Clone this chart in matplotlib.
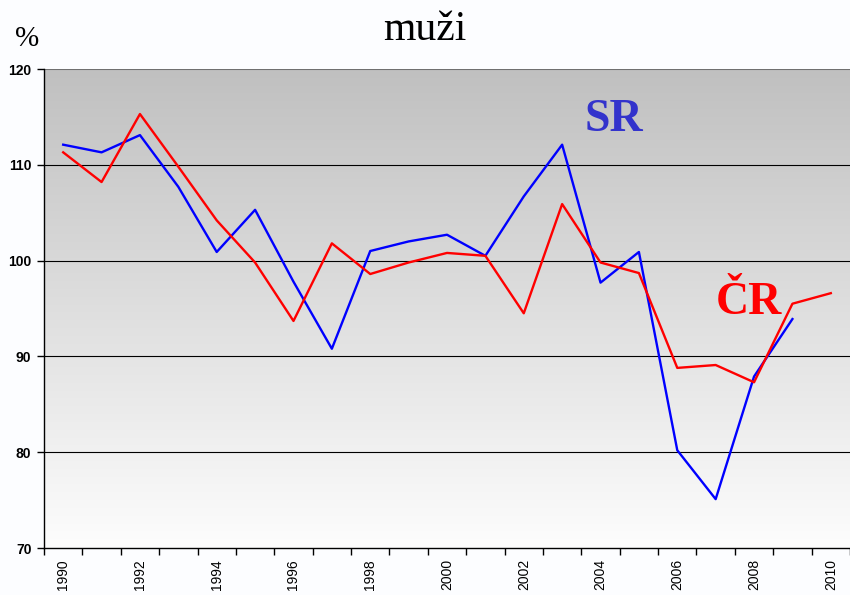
import matplotlib
matplotlib.use("Agg")
import matplotlib.pyplot as plt
import numpy as np

# data (index %, men)
years = list(range(1990, 2011))
sr = [112.1, 111.3, 113.1, 107.7, 100.9, 105.3, 97.8, 90.8, 101.0, 102.0,
      102.7, 100.5, 106.7, 112.1, 97.7, 100.9, 80.2, 75.1, 87.9, 93.9]
cr = [111.3, 108.2, 115.3, 109.8, 104.2, 99.8, 93.7, 101.8, 98.6, 99.8,
      100.8, 100.5, 94.5, 105.9, 99.8, 98.7, 88.8, 89.1, 87.3, 95.5, 96.6]
yticks = [70, 80, 90, 100, 110, 120]

fig = plt.figure(figsize=(8.5, 5.95), dpi=100, facecolor="#fcfdff")
ax = fig.add_axes([44/850, 1-548/595, 1-44/850, (548-69)/595])

# gradient background: grey at top, white at bottom
grad = np.linspace(0, 1, 256).reshape(-1, 1)
cmap = matplotlib.colors.LinearSegmentedColormap.from_list("bg", ["#fdfdfd", "#c0c0c0"])
ax.imshow(grad, aspect="auto", cmap=cmap, origin="lower",
          extent=[-0.5, len(years)-0.5, 70, 120], zorder=0)

x = np.arange(len(years))
ax.plot(x[:len(sr)], sr, color="#0000ff", lw=1.7, zorder=3)
ax.plot(x[:len(cr)], cr, color="#ff0000", lw=1.7, zorder=3)

ax.set_xlim(-0.5, len(years)-0.5)
ax.set_ylim(70, 120)

for v in yticks[1:-1]:
    ax.axhline(v, color="black", lw=0.8, zorder=1)
ax.axhline(120, color="#707070", lw=1.5, zorder=1)

ax.set_yticks(yticks)
ax.set_yticklabels([str(v) for v in yticks], fontsize=10, fontweight="bold",
                   family="Liberation Sans")
ax.tick_params(axis="y", direction="out", length=5, width=1, pad=4)

# ticks between categories, labels every other year
ax.set_xticks(np.arange(-0.5, len(years), 1))
ax.set_xticklabels([])
ax.tick_params(axis="x", which="major", direction="out", length=5, width=1)
ax.set_xticks(x[::2], minor=True)
ax.set_xticklabels([str(y) for y in years[::2]], minor=True, rotation=90,
                   fontsize=10, family="Liberation Sans")
ax.tick_params(axis="x", which="minor", length=0, pad=8)

for s in ["top", "right"]:
    ax.spines[s].set_visible(False)
ax.spines["left"].set_linewidth(1)
ax.spines["bottom"].set_linewidth(1)

fig.text(425/850, 1-30/595, "muži", ha="center", va="center",
         fontsize=30, family="Liberation Serif")
fig.text(27/850, 1-39/595, "%", ha="center", va="center",
         fontsize=21, family="Liberation Serif")
ax.text(14.35, 114.7, "SR", color="#3333cc", fontsize=33, fontweight="bold",
        family="Liberation Serif", ha="center", va="center", zorder=4)
ax.text(17.87, 95.6, "ČR", color="#ff0000", fontsize=33, fontweight="bold",
        family="Liberation Serif", ha="center", va="center", zorder=4)

fig.savefig("out.png", dpi=100, facecolor=fig.get_facecolor())
